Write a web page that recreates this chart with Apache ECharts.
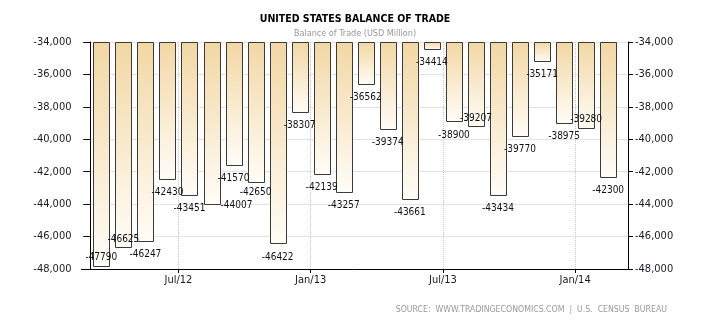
<!DOCTYPE html>
<html><head><meta charset="utf-8">
<script src="https://cdn.jsdelivr.net/npm/echarts@6/dist/echarts.min.js"></script>
<style>html,body{margin:0;padding:0;background:#fff}#c{width:710px;height:325px}</style>
</head><body><div id="c"></div>
<script>
// ---- data ----
const months = ['Mar/12','Apr/12','May/12','Jun/12','Jul/12','Aug/12','Sep/12','Oct/12','Nov/12','Dec/12',
  'Jan/13','Feb/13','Mar/13','Apr/13','May/13','Jun/13','Jul/13','Aug/13','Sep/13','Oct/13','Nov/13','Dec/13',
  'Jan/14','Feb/14'];
const balance = [-47790,-46625,-46247,-42430,-43451,-44007,-41570,-42650,-46422,-38307,-42139,-43257,
  -36562,-39374,-43661,-34414,-38900,-39207,-43434,-39770,-35171,-38975,-39280,-42300];
const xTickLabels = ['Jul/12','Jan/13','Jul/13','Jan/14'];
const yMin = -48000, yMax = -34000, yStep = 2000;

// ---- label placement (style, not data) ----
const defaultNudge = [0, 13.5];
const labelNudge = {0:[0,-8], 1:[0,-7], 5:[25,1], 7:[0,10], 17:[0,-8], 22:[0,-8]};

const FONT = '"DejaVu Sans Condensed", "DejaVu Sans", sans-serif';
const xTickValues = xTickLabels.map(l => months.indexOf(l));

const chart = echarts.init(document.getElementById('c'), null, {renderer:'canvas'});
const yAxisBase = {
  type:'value', min:yMin, max:yMax, interval:yStep,
  axisLine:{show:true, lineStyle:{color:'#000', width:1}},
  axisLabel:{color:'#1a1a22', fontSize:11, fontFamily:FONT, padding:[4,0,0,0]},
};
chart.setOption({
  animation:false,
  backgroundColor:'#fff',
  title:{
    text:'UNITED STATES BALANCE OF TRADE',
    subtext:'Balance of Trade (USD Million)',
    left:'center', top:8, itemGap:2,
    textStyle:{fontSize:10.5, fontWeight:'bold', color:'#000', fontFamily:FONT, lineHeight:13},
    subtextStyle:{fontSize:9, color:'#999', fontFamily:FONT, lineHeight:11}
  },
  grid:{left:81.5, right:82, top:42, bottom:56, containLabel:false},
  xAxis:{
    type:'value', min:-0.4, max:24.4,
    axisLine:{show:true, onZero:false, lineStyle:{color:'#000'}},
    axisTick:{show:true, length:4, customValues:xTickValues, lineStyle:{color:'#000'}},
    axisLabel:{customValues:xTickValues, formatter:v => months[Math.round(v)], color:'#1a1a22', fontSize:11, fontFamily:FONT, margin:6},
    splitLine:{show:true, lineStyle:{color:'#c8c8c8', type:'dotted'}}
  },
  yAxis:[
    Object.assign({}, yAxisBase, {position:'left', axisTick:{show:true, length:7, lineStyle:{color:'#000'}},
      axisLabel:Object.assign({}, yAxisBase.axisLabel, {margin:10}),
      splitLine:{show:true, lineStyle:{color:'#c8c8c8', type:'dotted'}}}),
    Object.assign({}, yAxisBase, {position:'right', axisTick:{show:true, length:5, lineStyle:{color:'#000'}},
      axisLabel:Object.assign({}, yAxisBase.axisLabel, {margin:7}),
      splitLine:{show:false}})
  ],
  graphic:[{
    type:'text', right:43, top:305,
    style:{text:'SOURCE:  WWW.TRADINGECONOMICS.COM  |  U.S.  CENSUS  BUREAU', fill:'#9a9a9a', font:'8.7px ' + FONT}
  }],
  series:[{
    type:'custom',
    clip:false,
    data: balance.map((v, i) => [i + 0.5, v]),
    renderItem(params, api){
      const x = api.value(0), v = api.value(1);
      const p0 = api.coord([x, yMax]);
      const p1 = api.coord([x, v]);
      const left = Math.round(p0[0] - 8) + 0.5;
      const top = Math.round(p0[1]) + 0.5;
      const bottom = Math.round(p1[1]) + 0.5;
      const n = labelNudge[params.dataIndex] || defaultNudge;
      return {type:'group', children:[
        {type:'rect', shape:{x:left, y:top, width:16, height:bottom - top},
         style:{fill:new echarts.graphic.LinearGradient(0,0,0,1,[{offset:0,color:'#f2d7a4'},{offset:1,color:'#fffdf8'}]),
                stroke:'#3a3a3a', lineWidth:1}},
        {type:'text', x:p1[0] + n[0], y:p1[1] + n[1], z2:20,
         style:{text:String(v), fill:'#111', font:'10px ' + FONT, align:'center', verticalAlign:'middle'}}
      ]};
    }
  }]
});
</script></body></html>
